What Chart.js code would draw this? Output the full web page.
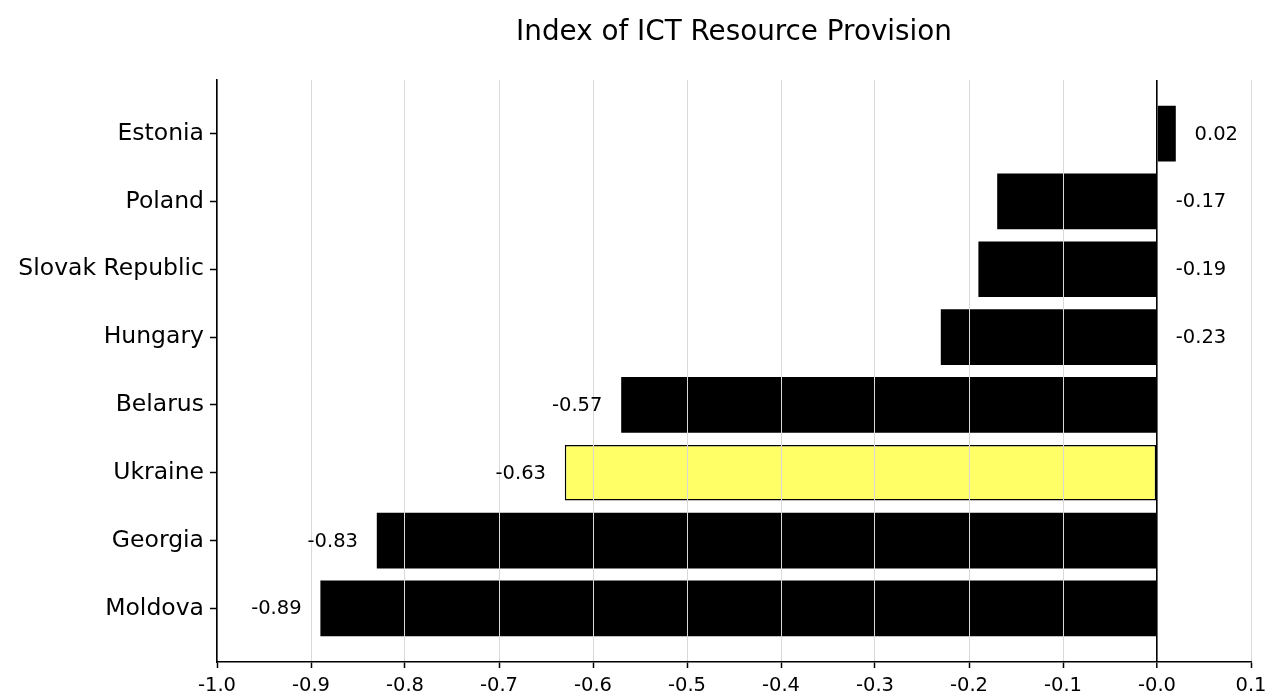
<!DOCTYPE html>
<html>
<head>
<meta charset="utf-8">
<script src="https://cdn.jsdelivr.net/npm/chart.js@4/dist/chart.umd.min.js"></script>
<style>
  html, body { margin: 0; padding: 0; background: #fff; }
  #wrap { width: 1267px; height: 693px; position: relative; }
</style>
</head>
<body>
<div id="wrap"><canvas id="c" width="1267" height="693"></canvas></div>
<script>
const titleText = "Index of ICT Resource Provision";
const categories = ["Estonia", "Poland", "Slovak Republic", "Hungary", "Belarus", "Ukraine", "Georgia", "Moldova"];
const values = [0.02, -0.17, -0.19, -0.23, -0.57, -0.63, -0.83, -0.89];
const valueLabels = ["0.02", "-0.17", "-0.19", "-0.23", "-0.57", "-0.63", "-0.83", "-0.89"];
const highlight = "Ukraine";
const xTickLabels = ["-1.0", "-0.9", "-0.8", "-0.7", "-0.6", "-0.5", "-0.4", "-0.3", "-0.2", "-0.1", "-0.0", "0.1"];

const FONT = "'DejaVu Sans', sans-serif";

const points = values.map((v, i) => ({ x: v, y: i }));
const barColors = categories.map(c => c === highlight ? "#ffff66" : "#000000");
const barBorders = categories.map(c => c === highlight ? 1.5 : 0);

const titlePlugin = {
  id: "titlePlugin",
  afterDraw(chart) {
    const ctx = chart.ctx;
    const a = chart.chartArea;
    ctx.save();
    ctx.font = "27.8px " + FONT;
    ctx.fillStyle = "#000";
    ctx.textAlign = "center";
    ctx.textBaseline = "middle";
    ctx.fillText(titleText, (a.left + a.right) / 2, 33);
    ctx.restore();
  }
};

const labelPlugin = {
  id: "labelPlugin",
  afterDraw(chart) {
    const ctx = chart.ctx;
    const xs = chart.scales.x, ys = chart.scales.y;
    ctx.save();
    ctx.font = "19.5px " + FONT;
    ctx.fillStyle = "#000";
    ctx.textBaseline = "middle";
    values.forEach((v, i) => {
      const y = ys.getPixelForValue(i) + 1;
      if (v > -0.3) {
        ctx.textAlign = "left";
        ctx.fillText(valueLabels[i], xs.getPixelForValue(Math.max(v, 0) + 0.02), y);
      } else {
        ctx.textAlign = "right";
        ctx.fillText(valueLabels[i], xs.getPixelForValue(v - 0.02), y);
      }
    });
    ctx.restore();
  }
};

new Chart(document.getElementById("c"), {
  type: "bar",
  data: {
    datasets: [{
      data: points,
      backgroundColor: barColors,
      borderColor: "#000000",
      borderWidth: barBorders,
      borderSkipped: false,
      barPercentage: 0.82,
      categoryPercentage: 1.0
    }]
  },
  options: {
    indexAxis: "y",
    responsive: false,
    animation: false,
    devicePixelRatio: 1,
    layout: { padding: { top: 80, right: 16, left: 0, bottom: 0 } },
    plugins: { legend: { display: false }, title: { display: false }, tooltip: { enabled: false } },
    scales: {
      x: {
        type: "linear",
        position: "bottom",
        min: -1.0,
        max: 0.1,
        afterFit(s) { s.height = 31; s.paddingLeft = 0; s.paddingRight = 0; },
        ticks: {
          stepSize: 0.1,
          autoSkip: false,
          maxRotation: 0,
          padding: 6,
          color: "#000",
          font: { family: FONT, size: 19.5 },
          callback: (v, i) => xTickLabels[i]
        },
        grid: {
          z: 1,
          drawOnChartArea: true,
          drawTicks: true,
          tickLength: 6,
          tickColor: "#000",
          tickWidth: 1.5,
          color: ctx => (ctx.tick && Math.abs(ctx.tick.value) < 1e-9) ? "#000000" : "#d9d9d9",
          lineWidth: ctx => (ctx.tick && Math.abs(ctx.tick.value) < 1e-9) ? 1.6 : 1
        },
        border: { display: true, color: "#000", width: 1.6, z: 1 }
      },
      y: {
        type: "linear",
        position: "left",
        reverse: true,
        offset: false,
        min: -0.79,
        max: 7.79,
        afterFit(s) { s.width = 217; s.paddingTop = 0; s.paddingBottom = 0; },
        afterBuildTicks(s) { s.ticks = categories.map((c, i) => ({ value: i })); },
        ticks: {
          autoSkip: false,
          padding: 6,
          color: "#000",
          font: { family: FONT, size: 23.5 },
          callback: v => categories[v]
        },
        grid: {
          offset: false,
          drawOnChartArea: false,
          drawTicks: true,
          tickLength: 7,
          tickColor: "#000",
          tickWidth: 1.5
        },
        border: { display: true, color: "#000", width: 1.6, z: 1 }
      }
    }
  },
  plugins: [titlePlugin, labelPlugin]
});
</script>
</body>
</html>
